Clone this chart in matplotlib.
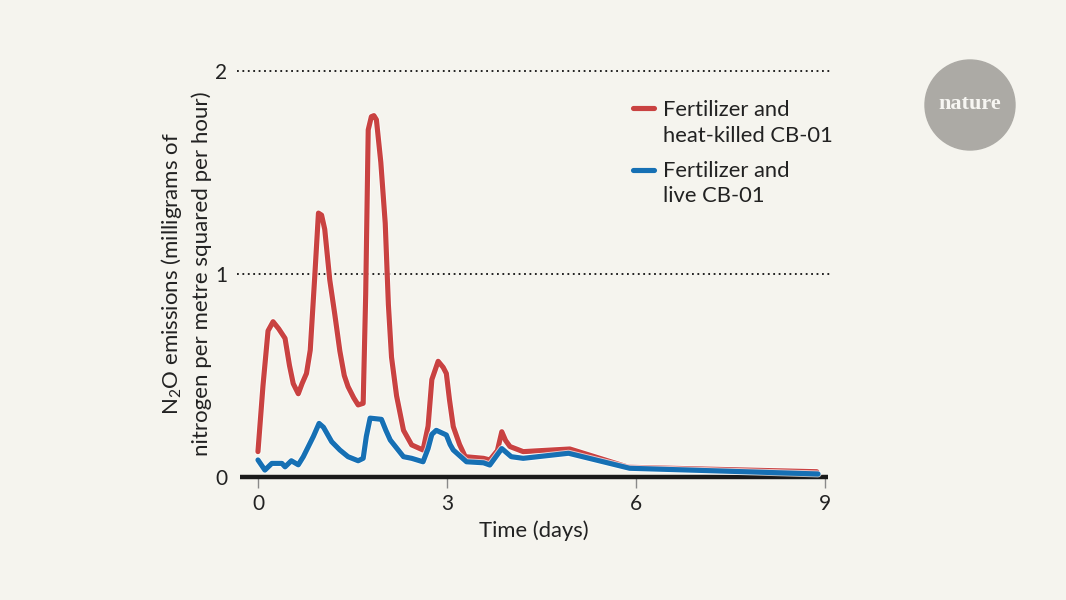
import matplotlib
matplotlib.use("Agg")
import matplotlib.pyplot as plt
import matplotlib.patheffects as pe
from matplotlib.lines import Line2D
from matplotlib.patches import Circle

plt.rcParams['font.family'] = ['Lato', 'DejaVu Sans']
plt.rcParams['mathtext.fontset'] = 'custom'
plt.rcParams['mathtext.rm'] = 'Lato'
plt.rcParams['mathtext.it'] = 'Lato'

BG = '#f5f4ee'
TXT = '#222222'
RED = '#c94241'
BLUE = '#1670b4'

# heat-killed CB-01 (days, mg N per m2 per hour)
red_days = [0.0, 0.08, 0.16, 0.24, 0.33, 0.43, 0.5, 0.56, 0.64, 0.7, 0.77, 0.83,
            0.9, 0.96, 1.01, 1.06, 1.14, 1.22, 1.30, 1.37, 1.43, 1.52, 1.59, 1.67,
            1.71, 1.75, 1.80, 1.84, 1.88, 1.95, 2.02, 2.07, 2.12, 2.2, 2.31, 2.44,
            2.62, 2.7, 2.76, 2.86, 2.94, 2.99, 3.04, 3.10, 3.2, 3.29, 3.58, 3.68,
            3.8, 3.87, 3.93, 4.0, 4.21, 4.95, 5.88, 8.87]
red_vals = [0.125, 0.45, 0.72, 0.765, 0.73, 0.683, 0.55, 0.46, 0.41, 0.46, 0.51, 0.625,
            0.98, 1.30, 1.29, 1.22, 0.97, 0.80, 0.62, 0.50, 0.445, 0.39, 0.355, 0.363,
            0.9, 1.71, 1.775, 1.78, 1.76, 1.55, 1.25, 0.85, 0.59, 0.40, 0.23, 0.158,
            0.133, 0.25, 0.48, 0.57, 0.54, 0.51, 0.38, 0.248, 0.16, 0.10, 0.092, 0.084,
            0.13, 0.223, 0.18, 0.15, 0.125, 0.138, 0.048, 0.026]

# live CB-01
blue_days = [0.0, 0.11, 0.22, 0.38, 0.43, 0.53, 0.64, 0.72, 0.80, 0.88, 0.97, 1.04,
             1.17, 1.30, 1.43, 1.59, 1.67, 1.72, 1.78, 1.96, 2.03, 2.10, 2.31, 2.44,
             2.62, 2.7, 2.76, 2.83, 2.99, 3.05, 3.10, 3.31, 3.58, 3.68, 3.87, 4.02,
             4.21, 4.93, 5.90, 8.89]
blue_vals = [0.084, 0.034, 0.067, 0.067, 0.05, 0.08, 0.06, 0.1, 0.15, 0.2, 0.264, 0.245,
             0.174, 0.133, 0.10, 0.08, 0.092, 0.2, 0.29, 0.284, 0.23, 0.182, 0.10, 0.092,
             0.075, 0.14, 0.21, 0.23, 0.207, 0.16, 0.133, 0.075, 0.07, 0.059, 0.14, 0.10,
             0.092, 0.117, 0.043, 0.015]

x_ticks = [0, 3, 6, 9]
y_ticks = [0, 1, 2]

legend_labels = [['Fertilizer and', 'heat-killed CB-01'],
                 ['Fertilizer and', 'live CB-01']]

fig = plt.figure(figsize=(10.66, 6), dpi=100, facecolor=BG)
ax = fig.add_axes([0.2223, 0.205, 0.5563, 0.6767])
ax.set_facecolor(BG)
ax.set_xlim(-0.333, 9.079)
ax.set_ylim(0, 2)

for s in ax.spines.values():
    s.set_visible(False)

# dotted gridlines
for yv in y_ticks[1:]:
    ax.axhline(yv, color='#111111', lw=1.3, ls=(0, (1, 2)), zorder=1, clip_on=False)
# baseline
ax.axhline(0, xmin=0.005, xmax=0.9965, color='#1a1a1a', lw=3.2, zorder=2,
           solid_capstyle='butt', clip_on=False)

halo = [pe.Stroke(linewidth=5.0, foreground='white', alpha=0.7), pe.Normal()]
ax.plot(red_days, red_vals, color=RED, lw=3.7, solid_joinstyle='round',
        solid_capstyle='round', zorder=3, clip_on=False, path_effects=halo)
ax.plot(blue_days, blue_vals, color=BLUE, lw=3.7, solid_joinstyle='round',
        solid_capstyle='round', zorder=4, clip_on=False, path_effects=halo)

ax.set_xticks(x_ticks)
ax.set_xticklabels([str(v) for v in x_ticks])
ax.set_yticks(y_ticks)
ax.set_yticklabels([str(v) for v in y_ticks])
ax.tick_params(axis='x', length=8, width=1, color='#8a8a8a', pad=4,
               labelsize=15, labelcolor=TXT)
ax.tick_params(axis='y', length=0, pad=7, labelsize=15, labelcolor=TXT)

ax.set_xlabel('Time (days)', fontsize=15.8, color=TXT, labelpad=5)
ax.set_ylabel('N$_2$O emissions (milligrams of\nnitrogen per metre squared per hour)',
              fontsize=16, color=TXT, linespacing=1.4, labelpad=2.5)

# legend drawn by hand, handle beside first line
handle_y = [108, 170]
first_base = [116, 177]
for lab, col, hy, by in zip(legend_labels, [RED, BLUE], handle_y, first_base):
    fig.add_artist(Line2D([633 / 1066, 654 / 1066], [1 - hy / 600] * 2, color=col,
                          lw=3.7, solid_capstyle='round'))
    for i, line in enumerate(lab):
        fig.text(663 / 1066, 1 - (by + 25.5 * i) / 600, line, fontsize=15.8,
                 color=TXT, va='baseline', ha='left')

# nature badge
fig.add_artist(Circle((9.70, 6 - 1.05), 0.45, color='#acaaa5',
                      transform=fig.dpi_scale_trans))
fig.text(970 / 1066, 1 - 104 / 600, 'nature', fontsize=16, color='#f7f6f2',
         family='Liberation Serif', ha='center', va='center', fontweight='bold')

fig.savefig('out.png', dpi=100, facecolor=BG)
